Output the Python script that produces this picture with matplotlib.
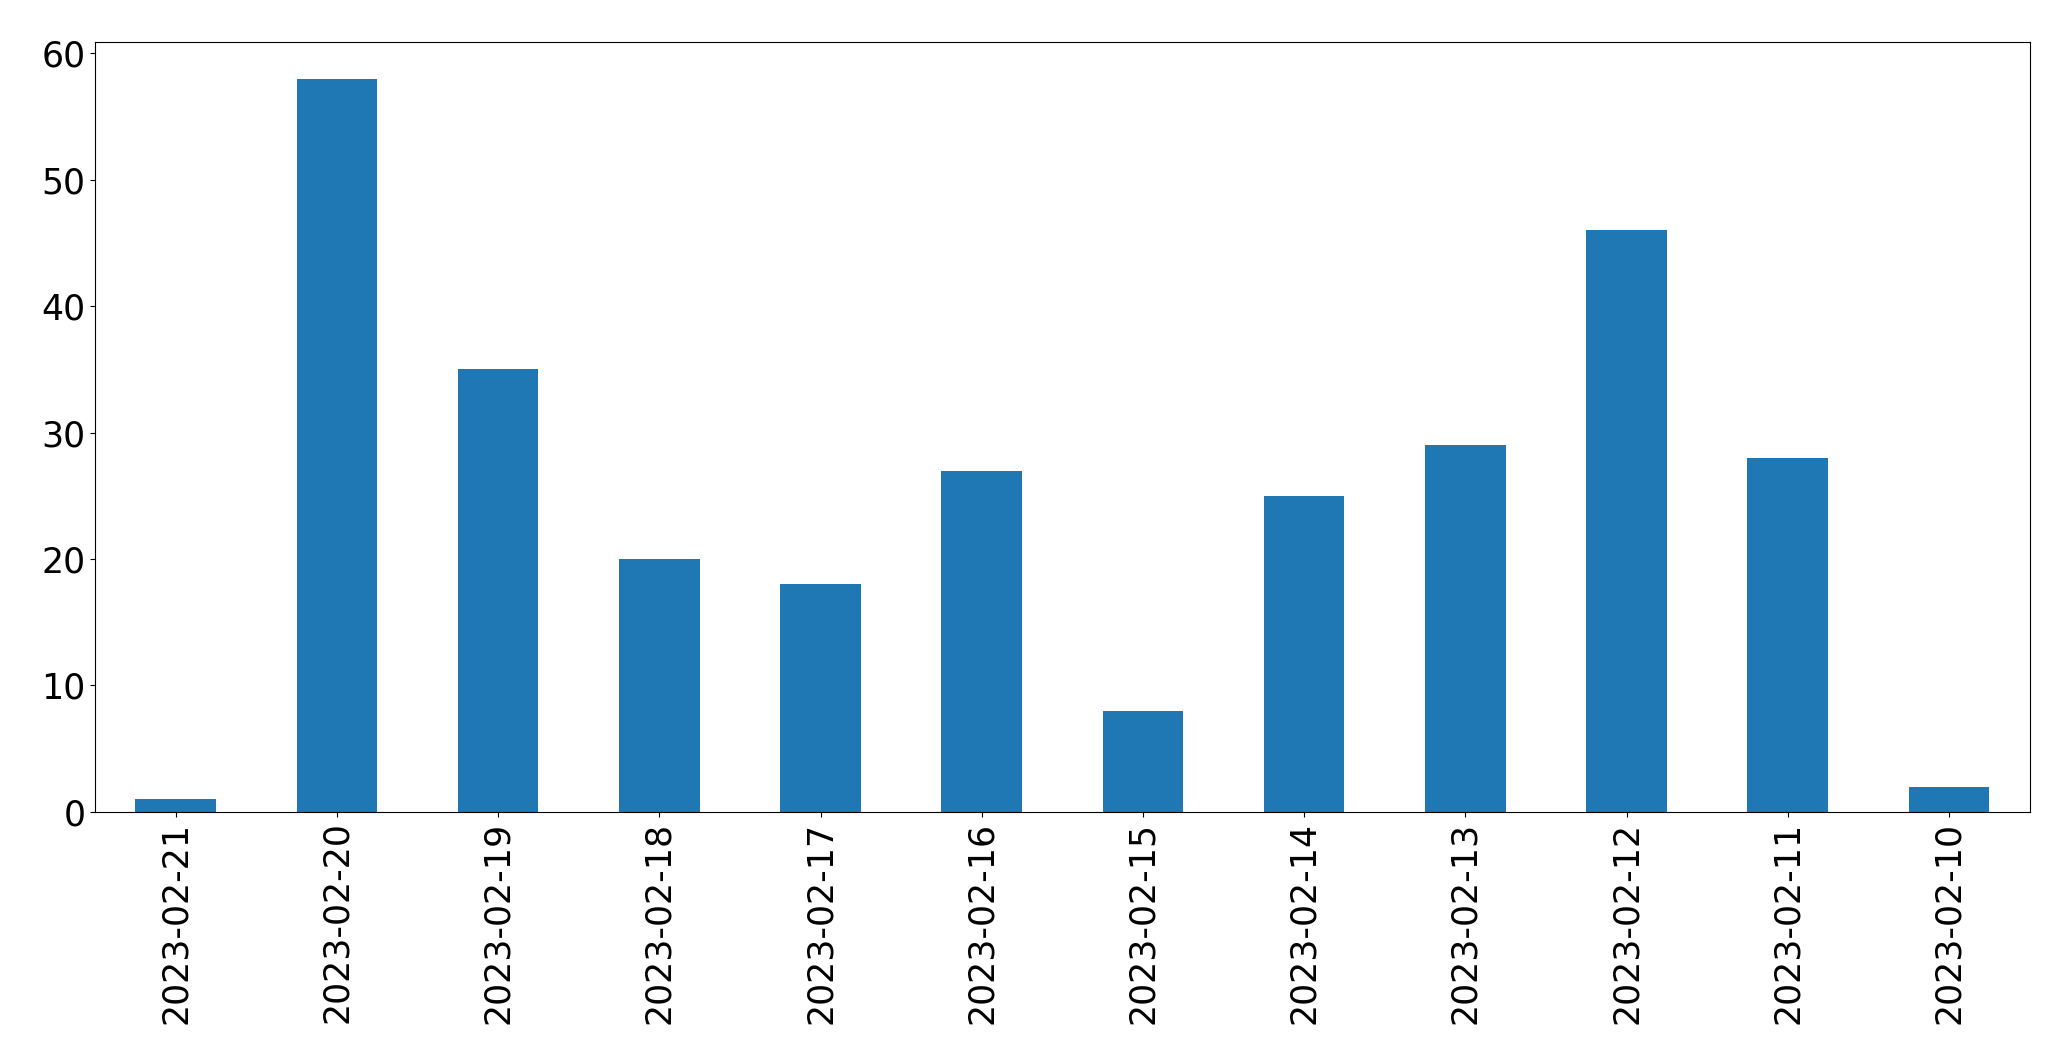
import matplotlib
matplotlib.use('Agg')
import matplotlib.pyplot as plt
import pandas as pd

dates = ["2023-02-21", "2023-02-20", "2023-02-19", "2023-02-18", "2023-02-17", "2023-02-16",
         "2023-02-15", "2023-02-14", "2023-02-13", "2023-02-12", "2023-02-11", "2023-02-10"]
counts = [1, 58, 35, 20, 18, 27, 8, 25, 29, 46, 28, 2]

s = pd.Series(counts, index=dates)

fig, ax = plt.subplots(figsize=(20.71, 10.64), dpi=100)
s.plot(kind='bar', ax=ax, color='#1f77b4')
ax.tick_params(axis='both', labelsize=25)
plt.subplots_adjust(left=0.0459, right=0.980, top=0.9605, bottom=0.237)
plt.savefig("out.png", dpi=100)
